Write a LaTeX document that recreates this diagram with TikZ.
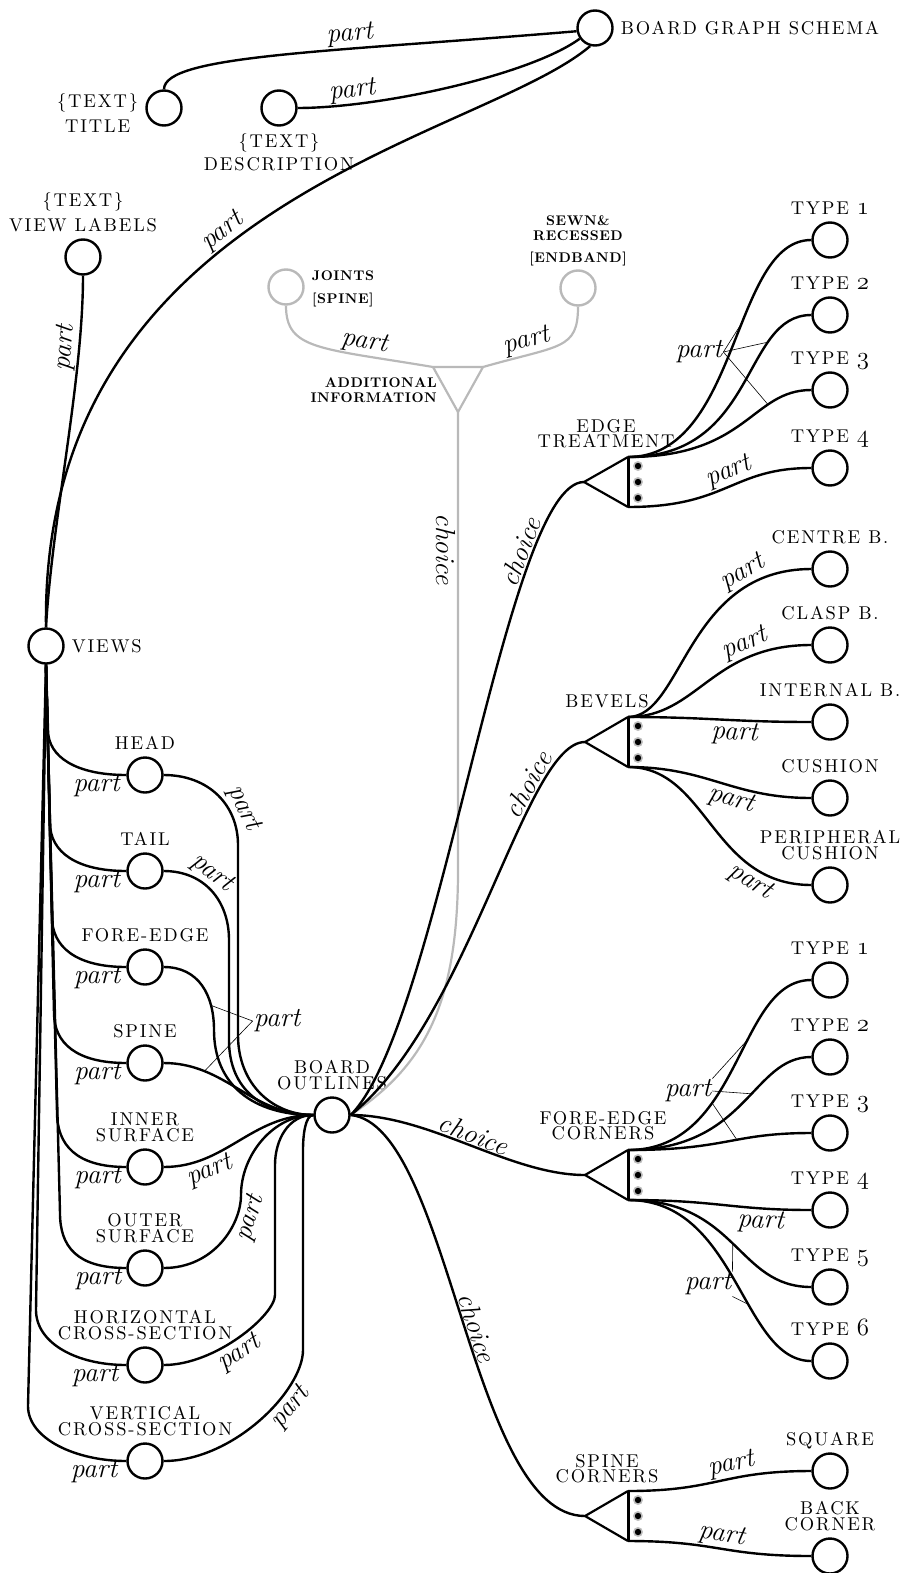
\documentclass[tikz,border=0pt]{standalone}
\usepackage{fontspec}
\definecolor{addgray}{RGB}{185,185,185}
\newfontfamily\caplab{lmroman10-regular.otf}[LetterSpace=10]
\newfontfamily\boldlab{lmroman10-bold.otf}[LetterSpace=4]
\newcommand\os[1]{{\fontsize{25}{15}\selectfont$\mathnormal{#1}$}}

\begin{document}
\begin{tikzpicture}[x=1pt,y=-1pt,
  pt/.style={circle,draw,line width=2.4pt,minimum size=35pt,inner sep=0pt},
  gpt/.style={pt,draw=addgray},
  edge/.style={line width=2.4pt},
  gedge/.style={line width=2.2pt,addgray},
  tri/.style={line width=2.2pt,line join=miter},
  bar/.style={line width=3pt},
  leader/.style={line width=0.6pt},
  lbl/.style={font=\itshape\fontsize{27.5}{27}\selectfont,inner sep=1pt},
  lab/.style={font=\caplab\fontsize{18.5}{15.5}\selectfont,align=center,inner sep=1pt,text depth=0pt},
  blab/.style={font=\boldlab\fontsize{14}{15}\selectfont,align=center,inner sep=1pt,text depth=0pt},
  label distance=6pt]
 \useasboundingbox (0,0) rectangle (904,1573);
 % schema and its text parts
 \node[pt,label={[lab]right:BOARD GRAPH SCHEMA}] (bgs) at (595,28) {};
 \node[pt,label distance=4pt,label={[lab,yshift=-5pt]left:\{TEXT\}\\[7pt]TITLE}] (tit) at (164,108) {};
 \node[pt,label distance=2pt,label={[lab]below:\{TEXT\}\\[4pt]DESCRIPTION}] (dsc) at (279,108) {};
 \node[pt,label distance=14pt,label={[lab]above:\{TEXT\}\\[6pt]VIEW LABELS}] (vlb) at (83,257) {};
 \node[pt,label={[lab]right:VIEWS}] (vws) at (46,646) {};
 \foreach \n/\y/\txt in {hd/775/HEAD, tl/871/TAIL, fe/967/FORE-EDGE, sp/1063/SPINE,
   inr/1167/INNER\\SURFACE, otr/1268/OUTER\\SURFACE, hzs/1365/HORIZONTAL\\CROSS-SECTION,
   vts/1461/VERTICAL\\CROSS-SECTION}
   \node[pt,label={[lab]above:\txt}] (\n) at (145,\y) {};
 \node[pt,label={[lab]above:BOARD\\OUTLINES}] (bo) at (332,1115) {};
 % right column
 \foreach \n/\y/\txt in {et1/240/TYPE \os{1}, et2/315/TYPE \os{2}, et3/390/TYPE \os{3},
   et4/468/TYPE \os{4}, bv1/569/CENTRE B., bv2/645/CLASP B., bv3/722/INTERNAL B.,
   bv4/798/CUSHION, bv5/885/PERIPHERAL\\CUSHION, fc1/980/TYPE \os{1}, fc2/1057/TYPE \os{2},
   fc3/1133/TYPE \os{3}, fc4/1210/TYPE \os{4}, fc5/1287/TYPE \os{5}, fc6/1361/TYPE \os{6},
   sq/1471/SQUARE, bk/1556/BACK\\CORNER}
   \node[pt,label={[lab]above:\txt}] (\n) at (830,\y) {};
 % additional information (grey)
 \node[gpt,label distance=2pt,label={[blab]right:JOINTS\\[8pt]{[}SPINE{]}}] (jn) at (286,287) {};
 \node[gpt,label={[blab]above:SEWN\&\\RECESSED\\[7pt]{[}ENDBAND{]}}] (sw) at (578,288) {};
 \coordinate (ai) at (458,412);
 \coordinate (ai-l) at (433,367);
 \coordinate (ai-r) at (483,367);
 \draw[gedge,line join=round] (ai-l) -- (ai-r) -- (ai) -- cycle;
 \node[blab,anchor=east,align=right] (ail) at (438,390) {ADDITIONAL\\INFORMATION};
 % choice triangles
 \foreach \n/\x/\y in {et/584/482, bv/585/742, fc/585/1175, scn/585/1516}{
   \coordinate (\n) at (\x,\y);
   \coordinate (\n-t) at (628,\y-25);
   \coordinate (\n-b) at (628,\y+25);
   \draw[tri] (\n-t) -- (\n) -- (\n-b);
   \draw[bar] (\n-t) -- (\n-b);
   \foreach \dy in {0,16,32}{
     \fill[black!25] (638,\y-16+\dy) circle (5pt);
     \fill (638,\y-16+\dy) circle (3.2pt);
   }}
 \node[lab,anchor=south] (etl) at (606,449) {EDGE\\TREATMENT};
 \node[lab,anchor=south] (bvl) at (607,709) {BEVELS};
 \node[lab,anchor=south] (fcl) at (603,1141) {FORE-EDGE\\CORNERS};
 \node[lab,anchor=south] (scl) at (607,1484) {SPINE\\CORNERS};

 % top edges
 \draw[edge] (tit.north) .. controls (164,55) and (330,52) .. (bgs.190) node[lbl,sloped,above,pos=.65]{part};
 \draw[edge] (dsc.east) .. controls (380,108) and (530,75) .. (bgs.215) node[lbl,sloped,above,pos=.2]{part};
 \draw[edge] (vws.north) .. controls (40,200) and (480,140) .. (bgs.255) node[lbl,sloped,above,pos=.44]{part};
 \draw[edge] (vws.north) .. controls (52,520) and (83,380) .. (vlb.south) node[lbl,sloped,above,pos=.78]{part};
 % views fan
 \foreach \n/\y/\xa/\rb in {hd/775/48/45, tl/871/50/48, fe/967/52/50, sp/1063/54/50,
   inr/1167/57/55, otr/1268/60/55, hzs/1365/36/55, vts/1461/28/55}
   \draw[edge] (vws.south) -- (\xa,\y-\rb) .. controls +(0,0.6*\rb) and +(-50,0) .. (\n.west)
     node[lbl,below,pos=.78]{part};
 % into board outlines
 \draw[edge] (hd.east) .. controls +(45,0) and +(0,-40) .. (238,845) node[lbl,sloped,above,pos=.72]{part}
   -- (238,1035) .. controls +(0,50) and +(-40,0) .. (bo.west);
 \draw[edge] (tl.east) .. controls +(40,0) and +(0,-40) .. (229,940) node[lbl,sloped,above,pos=.4]{part}
   -- (229,1040) .. controls +(0,50) and +(-50,0) .. (bo.west);
 \draw[edge] (fe.east) .. controls +(35,0) and +(0,-35) .. (214,1030) coordinate[pos=.75] (lfe)
   .. controls +(0,55) and +(-60,0) .. (bo.west);
 \draw[edge] (sp.east) .. controls +(62,0) and +(-62,0) .. (bo.west) coordinate[pos=.25] (lsp);
 \draw[edge] (inr.east) .. controls +(62,0) and +(-62,0) .. (bo.west) node[lbl,sloped,below,pos=.25]{part};
 \draw[edge] (otr.east) .. controls +(50,0) and +(0,30) .. (241,1195) node[lbl,sloped,below,pos=.8]{part}
   .. controls +(0,-40) and +(-40,0) .. (bo.west);
 \draw[edge] (hzs.east) .. controls +(52,0) and +(0,20) .. (275,1295) node[lbl,sloped,below,pos=.45]{part}
   -- (275,1165) .. controls +(0,-25) and +(-25,0) .. (bo.west);
 \draw[edge] (vts.east) .. controls +(70,0) and +(0,40) .. (303,1350) node[lbl,sloped,below,pos=.65]{part}
   -- (303,1150) .. controls +(0,-15) and +(-8,0) .. (bo.west);
 \node[lbl] (pfe) at (277,1021) {part};
 \draw[leader] (pfe.west) -- (lfe);
 \draw[leader] (pfe.west) -- (lsp);
 % choices out of board outlines
 \draw[gedge] (ai) -- node[lbl,black,rotate=-90,anchor=north,pos=.3]{choice} (458,870)
   .. controls +(0,140) and +(70,-47) .. (bo.east);
 \draw[gedge] (jn.south) .. controls (286,350) and (320,348) .. (ai-l) node[lbl,black,sloped,above,pos=.75]{part};
 \draw[gedge] (ai-r) .. controls (560,345) and (578,350) .. (sw.south) node[lbl,black,sloped,above,pos=.25]{part};
 \draw[edge] (bo.east) .. controls (440,1025) and (505,482) .. (et) node[lbl,sloped,above,pos=.77]{choice};
 \draw[edge] (bo.east) .. controls (470,1020) and (525,742) .. (bv) node[lbl,sloped,above,pos=.74]{choice};
 \draw[edge] (bo.east) .. controls (430,1115) and (510,1175) .. (fc) node[lbl,sloped,above,pos=.5]{choice};
 \draw[edge] (bo.east) .. controls (450,1125) and (470,1516) .. (scn) node[lbl,sloped,above,pos=.52]{choice};
 % edge treatment
 \draw[edge] (et-t) .. controls +(112,0) and +(-80,0) .. (et1.west) coordinate[pos=.58] (e1);
 \draw[edge] (et-t) .. controls +(130,0) and +(-70,0) .. (et2.west) coordinate[pos=.72] (e2);
 \draw[edge] (et-t) .. controls +(120,0) and +(-60,0) .. (et3.west) coordinate[pos=.7] (e3);
 \draw[edge] (et-b) .. controls +(100,0) and +(-80,0) .. (et4.west) node[lbl,sloped,above,pos=.55]{part};
 \node[lbl] (pet) at (699,352) {part};
 \foreach \c in {e1,e2,e3} \draw[leader] (pet.east) -- (\c);
 % bevels
 \draw[edge] (bv-t) .. controls +(55,0) and +(-125,0) .. (bv1.west) node[lbl,sloped,above,pos=.8]{part};
 \draw[edge] (bv-t) .. controls +(70,0) and +(-100,0) .. (bv2.west) node[lbl,sloped,above,pos=.75]{part};
 \draw[edge] (bv-t) .. controls +(80,0) and +(-80,0) .. (bv3.west) node[lbl,sloped,below,pos=.6]{part};
 \draw[edge] (bv-b) .. controls +(80,0) and +(-80,0) .. (bv4.west) node[lbl,sloped,below,pos=.6]{part};
 \draw[edge] (bv-b) .. controls +(80,0) and +(-100,0) .. (bv5.west) node[lbl,sloped,below,pos=.78]{part};
 % fore-edge corners
 \draw[edge] (fc-t) .. controls +(115,0) and +(-75,0) .. (fc1.west) coordinate[pos=.6] (f1);
 \draw[edge] (fc-t) .. controls +(120,0) and +(-60,0) .. (fc2.west) coordinate[pos=.57] (f2);
 \draw[edge] (fc-t) .. controls +(100,0) and +(-80,0) .. (fc3.west) coordinate[pos=.57] (f3);
 \draw[edge] (fc-b) .. controls +(90,0) and +(-80,0) .. (fc4.west) node[lbl,sloped,below,pos=.75]{part};
 \draw[edge] (fc-b) .. controls +(110,0) and +(-75,0) .. (fc5.west) coordinate[pos=.5] (f5);
 \draw[edge] (fc-b) .. controls +(110,0) and +(-70,0) .. (fc6.west) coordinate[pos=.6] (f6);
 \node[lbl] (pfc) at (688,1091) {part};
 \node[lbl] (pfd) at (708,1284) {part};
 \draw[leader] (pfc.north east) -- (f1);
 \draw[leader] (pfc.east) -- (f2);
 \draw[leader] (pfc.south east) -- (f3);
 \draw[leader] (pfd.north east) -- (f5);
 \draw[leader] (pfd.south east) -- (f6);
 % spine corners
 \draw[edge] (scn-t) .. controls +(90,0) and +(-90,0) .. (sq.west) node[lbl,sloped,above,pos=.6]{part};
 \draw[edge] (scn-b) .. controls +(90,0) and +(-90,0) .. (bk.west) node[lbl,sloped,above,pos=.5]{part};
\end{tikzpicture}
\end{document}
